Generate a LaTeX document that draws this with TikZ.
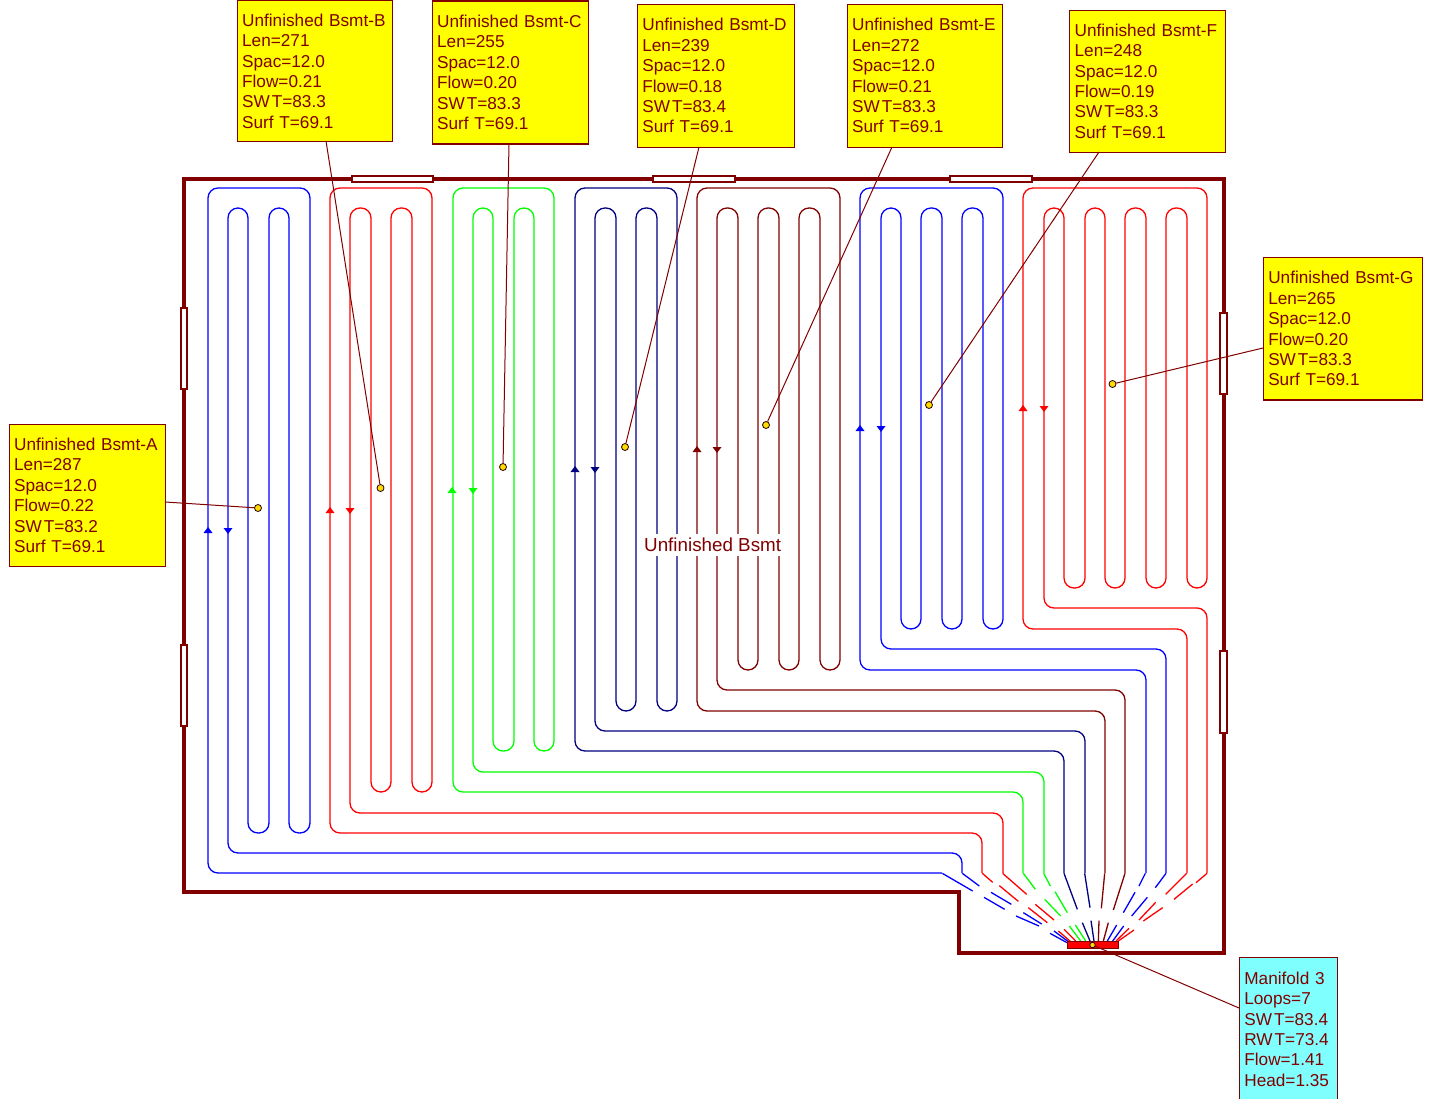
\documentclass[tikz,border=0pt]{standalone}
\usepackage{fontspec}
\setmainfont{Liberation Sans}
\definecolor{wallc}{HTML}{800000}
\definecolor{navyc}{HTML}{000080}
\definecolor{tagy}{HTML}{FFFF00}
\definecolor{tagc}{HTML}{80FFFF}
\definecolor{dotc}{HTML}{FFDC00}
\newcommand{\SWT}{SW\kern2pt T}
\newcommand{\RWT}{RW\kern2pt T}
\tikzset{
  tagbox/.style={draw=wallc,line width=1.3pt,fill=tagy,anchor=north west,inner xsep=5pt,inner ysep=0pt,
    text=wallc,align=left,font=\fontsize{17.2}{20.4}\selectfont},
  wall/.style={draw=wallc,line width=4.6pt,line join=miter},
  winbox/.style={draw=wallc,line width=1.3pt,fill=white},
  pipe/.style={line width=1.3pt,rounded corners=10pt},
  fan/.style={line width=1.3pt},
  leader/.style={draw=wallc,line width=1pt},
  tapdot/.style={circle,draw=black!70!wallc,line width=0.8pt,fill=dotc,inner sep=0pt,minimum size=7pt},
  roomname/.style={text=wallc,fill=white,font=\fontsize{18.8}{22}\selectfont,inner xsep=3pt,inner ysep=0pt,minimum height=22pt},
}
\newcommand{\flowmarks}[3]{%
  \fill[#3] (#1-4.5,#2+3) -- (#1,#2-3) -- (#1+4.5,#2+3) -- cycle;
}
\newcommand{\flowmarkd}[3]{%
  \fill[#3] (#1-4.5,#2-2) -- (#1,#2+4) -- (#1+4.5,#2-2) -- cycle;
}
\begin{document}
\begin{tikzpicture}[x=1pt,y=-1pt]
\useasboundingbox (0,0) rectangle (1431,1099);
% serpentine loops
\draw[pipe,blue] (942,873)--(208,873)--(208,188)--(310,188)--(310,833)--(289,833)--(289,208)--(269,208)--(269,833)--(248,833)--(248,208)--(228,208)--(228,853)--(962,853)--(962,873);
\draw[pipe,red] (982,873)--(982,833)--(330,833)--(330,188)--(432,188)--(432,792)--(412,792)--(412,208)--(391,208)--(391,792)--(371,792)--(371,208)--(350,208)--(350,813)--(1003,813)--(1003,873);
\draw[pipe,green] (1023,873)--(1023,792)--(453,792)--(453,188)--(554,188)--(554,751)--(534,751)--(534,208)--(514,208)--(514,751)--(493,751)--(493,208)--(473,208)--(473,772)--(1044,772)--(1044,873);
\draw[pipe,navyc] (1064,873)--(1064,751)--(575,751)--(575,188)--(677,188)--(677,711)--(657,711)--(657,208)--(636,208)--(636,711)--(616,711)--(616,208)--(595,208)--(595,731)--(1085,731)--(1085,873);
\draw[pipe,wallc] (1105,873)--(1105,711)--(697,711)--(697,188)--(840,188)--(840,670)--(820,670)--(820,208)--(799,208)--(799,670)--(779,670)--(779,208)--(758,208)--(758,670)--(738,670)--(738,208)--(717,208)--(717,690)--(1125,690)--(1125,873);
\draw[pipe,blue] (1146,873)--(1146,670)--(860,670)--(860,188)--(1003,188)--(1003,629)--(983,629)--(983,208)--(962,208)--(962,629)--(942,629)--(942,208)--(921,208)--(921,629)--(901,629)--(901,208)--(881,208)--(881,649)--(1166,649)--(1166,873);
\draw[pipe,red] (1187,873)--(1187,629)--(1023,629)--(1023,188)--(1207,188)--(1207,588)--(1187,588)--(1187,208)--(1166,208)--(1166,588)--(1146,588)--(1146,208)--(1125,208)--(1125,588)--(1105,588)--(1105,208)--(1085,208)--(1085,588)--(1064,588)--(1064,208)--(1044,208)--(1044,608)--(1207,608)--(1207,873);
% fan-out to manifold (coordinates of a 3x grid)
\begin{scope}[shift={(930,840)},x=0.33333pt,y=-0.33333pt]
\draw[fan,blue] (37,100)--(128,153) (162,172)--(224,208) (258,228)--(327,258) (360,280)--(411,308);
\draw[fan,blue] (97,100)--(148,138) (183,157)--(244,193) (280,218)--(335,252) (372,273)--(415,305);
\draw[fan,red] (157,100)--(188,127) (208,137)--(265,184) (295,203)--(352,248) (385,273)--(422,305);
\draw[fan,red] (218,100)--(290,163) (316,193)--(372,240) (402,268)--(437,303);
\draw[fan,green] (280,100)--(316,148) (344,178)--(392,228) (418,258)--(452,303);
\draw[fan,green] (341,100)--(361,138) (375,155)--(412,218) (436,255)--(467,303);
\draw[fan,navyc] (402,100)--(442,208) (457,248)--(480,303);
\draw[fan,navyc] (464,100)--(480,203) (483,242)--(492,303);
\draw[fan,wallc] (524,100)--(514,205) (507,242)--(505,303);
\draw[fan,wallc] (585,100)--(550,210) (535,248)--(520,303);
\draw[fan,blue] (646,100)--(627,138) (615,157)--(580,218) (560,255)--(532,303);
\draw[fan,blue] (708,100)--(676,143) (652,172)--(605,228) (581,258)--(548,303);
\draw[fan,red] (770,100)--(707,163) (677,187)--(627,240) (597,265)--(558,303);
\draw[fan,red] (831,100)--(798,128) (788,132)--(732,178) (698,203)--(640,243) (612,270)--(565,303);
\end{scope}
% flow arrows
\flowmarks{208}{530}{blue}\flowmarkd{228}{530}{blue}
\flowmarks{330}{510}{red}\flowmarkd{350}{510}{red}
\flowmarks{452}{490}{green}\flowmarkd{473}{490}{green}
\flowmarks{575}{469}{navyc}\flowmarkd{595}{469}{navyc}
\flowmarks{697}{449}{wallc}\flowmarkd{717}{449}{wallc}
\flowmarks{860}{428}{blue}\flowmarkd{881}{428}{blue}
\flowmarks{1023}{408}{red}\flowmarkd{1044}{408}{red}
% walls
\draw[wall] (184,179)--(1224,179)--(1224,953)--(959,953)--(959,892)--(184,892)--cycle;
% windows
\draw[winbox] (352,176) rectangle (433,182);
\draw[winbox] (653,176) rectangle (735,182);
\draw[winbox] (950,176) rectangle (1032,182);
\draw[winbox] (181,308) rectangle (187,389);
\draw[winbox] (181,645) rectangle (187,726);
\draw[winbox] (1220,313) rectangle (1227,394);
\draw[winbox] (1220,651) rectangle (1227,733);
% manifold
\node[draw=wallc,line width=0.8pt,fill=red,minimum width=51pt,minimum height=7pt,inner sep=0pt] (mani) at (1092.5,944.8) {};
% room name
\node[roomname,anchor=west] (room) at (641,544.5) {Unfinished Bsmt};
% tags
\node[tagbox,text width=146pt,minimum height=142pt] (tagA) at (8.5,423.7) {Unfinished Bsmt-A\\Len=287\\Spac=12.0\\Flow=0.22\\\SWT=83.2\\Surf T=69.1};
\node[tagbox,text width=145pt,minimum height=141pt] (tagB) at (236.5,0) {Unfinished Bsmt-B\\Len=271\\Spac=12.0\\Flow=0.21\\\SWT=83.3\\Surf T=69.1};
\node[tagbox,text width=146pt,minimum height=143pt] (tagC) at (431.5,0.3) {Unfinished Bsmt-C\\Len=255\\Spac=12.0\\Flow=0.20\\\SWT=83.3\\Surf T=69.1};
\node[tagbox,text width=147pt,minimum height=143pt] (tagD) at (636.7,3.7) {Unfinished Bsmt-D\\Len=239\\Spac=12.0\\Flow=0.18\\\SWT=83.4\\Surf T=69.1};
\node[tagbox,text width=145pt,minimum height=143pt] (tagE) at (846.5,3.7) {Unfinished Bsmt-E\\Len=272\\Spac=12.0\\Flow=0.21\\\SWT=83.3\\Surf T=69.1};
\node[tagbox,text width=146pt,minimum height=142pt] (tagF) at (1069,9.6) {Unfinished Bsmt-F\\Len=248\\Spac=12.0\\Flow=0.19\\\SWT=83.3\\Surf T=69.1};
\node[tagbox,text width=149pt,minimum height=142pt] (tagG) at (1262.6,257.2) {Unfinished Bsmt-G\\Len=265\\Spac=12.0\\Flow=0.20\\\SWT=83.3\\Surf T=69.1};
\node[tagbox,fill=tagc,text width=88pt,minimum height=143pt] (tagM) at (1238.7,957) {Manifold 3\\Loops=7\\\SWT=83.4\\\RWT=73.4\\Flow=1.41\\Head=1.35};
% tap dots
\node[tapdot] (dotA) at (258,508) {};
\node[tapdot] (dotB) at (380.5,488) {};
\node[tapdot] (dotC) at (503,467) {};
\node[tapdot] (dotD) at (625,447) {};
\node[tapdot] (dotE) at (766,425) {};
\node[tapdot] (dotF) at (929,405) {};
\node[tapdot] (dotG) at (1112.5,384) {};
\node[tapdot,minimum size=5.5pt] (dotM) at (1092.5,945) {};
% leader attach points
\coordinate (atA) at (165,502);
\coordinate (atB) at (326,141);
\coordinate (atC) at (509,143);
\coordinate (atD) at (699,147);
\coordinate (atE) at (892,147);
\coordinate (atF) at (1099,152);
\coordinate (atG) at (1263,348);
\coordinate (atM) at (1239,1008);
\draw[leader] (atA)--(dotA);
\draw[leader] (atB)--(dotB);
\draw[leader] (atC)--(dotC);
\draw[leader] (atD)--(dotD);
\draw[leader] (atE)--(dotE);
\draw[leader] (atF)--(dotF);
\draw[leader] (atG)--(dotG);
\draw[leader] (atM)--(dotM);
\end{tikzpicture}
\end{document}
